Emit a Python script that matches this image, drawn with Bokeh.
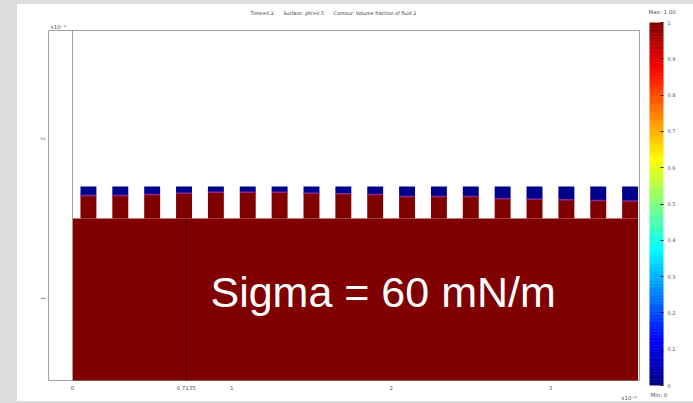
from bokeh.plotting import figure
from bokeh.models import (Range1d, FixedTicker, Label, Title, Div, CustomJSTickFormatter)
from bokeh.layouts import row, column
from bokeh.embed import file_html
from bokeh.resources import INLINE

# ---------------- data (lengths in units of 1e-3 m) ----------------
pillar_left = [0.05, 0.25, 0.45, 0.65, 0.85, 1.05, 1.25, 1.45, 1.65,
               1.85, 2.05, 2.25, 2.45, 2.65, 2.85, 3.05, 3.25, 3.45]
pillar_right = [0.15, 0.35, 0.55, 0.75, 0.95, 1.15, 1.35, 1.55, 1.75,
                1.95, 2.15, 2.35, 2.55, 2.75, 2.95, 3.15, 3.35, 3.55]
interface_y = [1.645, 1.645, 1.651, 1.659, 1.665, 1.665, 1.665, 1.659, 1.655,
               1.651, 1.638, 1.638, 1.638, 1.624, 1.620, 1.618, 1.613, 1.609]
pillar_top = 1.70
base_level = 1.50
domain_left = 0.0
domain_right = 3.55
domain_bottom = 0.0
domain_top = 2.75
marker_x = 0.7135

x_ticks = [0, 0.7135, 1, 2, 3]
x_tick_labels = ["0", "0.7135", "1", "2", "3"]
y_ticks = [1, 2]
y_tick_labels = ["1", "2"]
cb_ticks = [0, 0.1, 0.2, 0.3, 0.4, 0.5, 0.6, 0.7, 0.8, 0.9, 1.0]
cb_tick_labels = ["0", "0.1", "0.2", "0.3", "0.4", "0.5", "0.6", "0.7", "0.8", "0.9", "1"]
cb_min, cb_max = 0.0, 1.0

GAP = "\u2003\u2003"
title_text = "Time=0.2" + GAP + "Surface: phi>0.5" + GAP + "Contour: Volume fraction of fluid 2"
big_text = "Sigma = 60 mN/m"
scale_text = "x10\u207b\u00b3"

# ---------------- styles ----------------
RED = "#800000"
BLUE = "#00008c"
GRAY = "#a0a0a0"
BG = "#dcdcdc"
TXT = "#555555"
SMALL = "5.5px"
FONT = "DejaVu Sans"
ROW_H = 397


def jet(t):
    r = min(max(1.5 - abs(4 * t - 3), 0), 1)
    g = min(max(1.5 - abs(4 * t - 2), 0), 1)
    b = min(max(1.5 - abs(4 * t - 1), 0), 1)
    return "#%02x%02x%02x" % (int(r * 255), int(g * 255), int(b * 255))


N = 128
jet_palette = [jet((i + 0.5) / N) for i in range(N)]
cb_levels = [cb_min + (cb_max - cb_min) * i / N for i in range(N + 1)]

# ---------------- main plot ----------------
p = figure(width=628, height=ROW_H, title=None,
           x_range=Range1d(-0.1507, 3.559), y_range=Range1d(0.483, 2.680),
           output_backend="svg", toolbar_location=None,
           min_border_left=31, min_border_right=6,
           min_border_top=26, min_border_bottom=21)
p.frame_align = False
p.background_fill_color = "white"
p.border_fill_color = "white"
p.outline_line_color = GRAY
p.outline_line_width = 1
p.grid.visible = False

p.add_layout(Title(text=scale_text, align="left", offset=2, standoff=1,
                   text_font_size=SMALL, text_font=FONT, text_font_style="normal",
                   text_color=TXT), "above")
p.add_layout(Title(text=title_text, align="left", offset=202, standoff=7,
                   vertical_align="top",
                   text_font_size="4.8px", text_font=FONT, text_font_style="normal",
                   text_color="#333333"), "above")
p.add_layout(Title(text=scale_text, align="right", offset=3, standoff=1,
                   text_font_size=SMALL, text_font=FONT, text_font_style="normal",
                   text_color=TXT), "below")

p.xaxis.ticker = FixedTicker(ticks=x_ticks)
p.xaxis.formatter = CustomJSTickFormatter(args=dict(labels=x_tick_labels),
                                          code="return labels[index];")
p.yaxis.ticker = FixedTicker(ticks=y_ticks)
p.yaxis.formatter = CustomJSTickFormatter(args=dict(labels=y_tick_labels),
                                          code="return labels[index];")
p.yaxis.major_label_orientation = "vertical"
for ax in (p.xaxis, p.yaxis):
    ax.axis_line_color = None
    ax.major_tick_line_color = None
    ax.minor_tick_line_color = None
    ax.major_tick_in = 0
    ax.major_tick_out = 0
    ax.minor_tick_in = 0
    ax.minor_tick_out = 0
    ax.major_label_text_font_size = SMALL
    ax.major_label_text_font = FONT
    ax.major_label_text_color = TXT
p.xaxis.major_label_standoff = 4
p.yaxis.major_label_standoff = 3

# liquid bulk
p.quad(left=[domain_left], right=[domain_right], bottom=[domain_bottom],
       top=[base_level], fill_color=RED, line_color=None)
# pillars: fluid 2 (red) below interface, fluid 1 (blue) above
p.quad(left=pillar_left, right=pillar_right, bottom=base_level, top=interface_y,
       fill_color=RED, line_color=None)
p.quad(left=pillar_left, right=pillar_right, bottom=interface_y, top=pillar_top,
       fill_color=BLUE, line_color=None)
# contour at interface
p.segment(x0=pillar_left, x1=pillar_right, y0=interface_y, y1=interface_y,
          line_color="#8a2a8f", line_width=1.5)
# internal boundary line
p.segment(x0=[marker_x], x1=[marker_x], y0=[domain_bottom], y1=[base_level],
          line_color="#4d0000", line_width=1)
# domain left boundary
p.segment(x0=[domain_left], x1=[domain_left], y0=[domain_bottom], y1=[domain_top],
          line_color=GRAY, line_width=1)

p.add_layout(Label(x=0.866, y=0.886, text=big_text, text_color="white",
                   text_baseline="bottom",
                   text_font_size="43px", text_font="Liberation Sans"))

# ---------------- colour bar as its own small plot ----------------
cb = figure(width=48, height=ROW_H, title=None,
            x_range=Range1d(0, 1), y_range=Range1d(cb_min, cb_max),
            output_backend="svg", toolbar_location=None,
            x_axis_location=None, y_axis_location="right",
            min_border_left=4, min_border_right=30,
            min_border_top=18, min_border_bottom=16)
cb.frame_align = False
cb.background_fill_color = "white"
cb.border_fill_color = "white"
cb.outline_line_color = None
cb.grid.visible = False
cb.quad(left=0, right=1, bottom=cb_levels[:-1], top=cb_levels[1:],
        fill_color=jet_palette, line_color=jet_palette, line_width=0.6)
cb.yaxis.ticker = FixedTicker(ticks=cb_ticks)
cb.yaxis.formatter = CustomJSTickFormatter(args=dict(labels=cb_tick_labels),
                                           code="return labels[index];")
cb.yaxis.axis_line_color = None
cb.yaxis.major_tick_in = 3
cb.yaxis.major_tick_out = 0
cb.yaxis.major_tick_line_color = "#222222"
cb.yaxis.minor_tick_line_color = None
cb.yaxis.minor_tick_in = 0
cb.yaxis.minor_tick_out = 0
cb.yaxis.major_label_standoff = 4
cb.yaxis.major_label_text_font_size = "5px"
cb.yaxis.major_label_text_font = FONT
cb.yaxis.major_label_text_color = TXT
cb.add_layout(Title(text="Max: 1.00", align="left", offset=-1, standoff=9.5,
                    vertical_align="top",
                    text_font_size=SMALL, text_font=FONT, text_font_style="normal",
                    text_color=TXT), "above")
cb.add_layout(Title(text="Min: 0", align="left", offset=1, standoff=7.5,
                    text_font_size=SMALL, text_font=FONT, text_font_style="normal",
                    text_color=TXT), "below")

# ---------------- grey frame around the panel ----------------
top_band = Div(text="", width=693, height=4, margin=0, styles={"background-color": BG})
left_band = Div(text="", width=17, height=ROW_H, margin=0, styles={"background-color": BG})
bottom_band = Div(text="", width=693, height=2, margin=0, styles={"background-color": BG})

layout = column(top_band, row(left_band, p, cb), bottom_band)

open("out.html", "w").write(file_html(layout, INLINE))
